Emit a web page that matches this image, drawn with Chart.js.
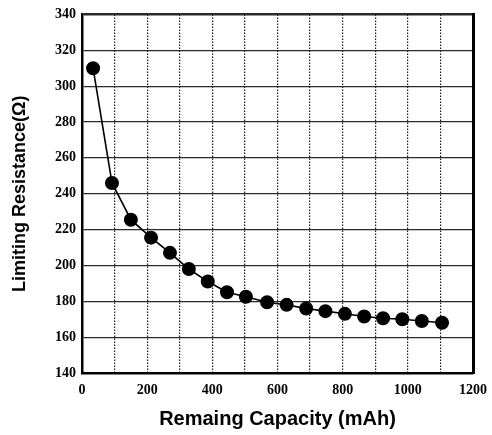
<!DOCTYPE html>
<html>
<head>
<meta charset="utf-8">
<script src="https://cdn.jsdelivr.net/npm/chart.js@4"></script>
<style>
  html, body { margin: 0; padding: 0; background: #fff; }
  #wrap { width: 492px; height: 435px; }
</style>
</head>
<body>
<div id="wrap"><canvas id="c" width="492" height="435"></canvas></div>
<script>
// Remaining capacity (mAh) and the matching limiting resistance (Ω)
const capacity = [34, 92, 150, 212, 270, 328, 386, 445, 503, 568, 628, 688, 747, 807, 866, 924, 983, 1043, 1105];
const resistance = [310, 246, 225.5, 215.5, 207, 198, 191, 185, 182.5, 179.5, 178, 176, 174.5, 173, 171.5, 170.5, 170, 169, 168];

const xMin = 0, xMax = 1200, xStep = 100, xLabelEvery = 200;
const yMin = 140, yMax = 340, yStep = 20;

const tickFont = { family: '"Liberation Serif", "DejaVu Serif", serif', size: 14, weight: 'bold' };
const xTitleFont = { family: '"Liberation Sans", Arial, sans-serif', size: 20, weight: 'bold' };
const yTitleFont = { family: '"Liberation Sans", Arial, sans-serif', size: 18, weight: 'bold' };

new Chart(document.getElementById('c'), {
  type: 'scatter',
  data: {
    datasets: [{
      data: capacity.map((x, i) => ({ x, y: resistance[i] })),
      showLine: true,
      borderColor: '#000',
      borderWidth: 1.6,
      backgroundColor: '#000',
      pointBackgroundColor: '#000',
      pointBorderColor: '#000',
      pointRadius: 6.2,
      pointHoverRadius: 6.2,
      tension: 0
    }]
  },
  options: {
    responsive: false,
    animation: false,
    events: [],
    layout: { padding: { left: 0, right: 19, top: 14, bottom: 0 } },
    plugins: { legend: { display: false }, tooltip: { enabled: false } },
    scales: {
      x: {
        type: 'linear',
        min: xMin, max: xMax,
        afterFit: s => { s.height = 62; s.paddingLeft = 0; s.paddingRight = 0; },
        ticks: {
          stepSize: xStep,
          autoSkip: false,
          maxRotation: 0,
          padding: 9,
          color: '#000',
          font: tickFont,
          callback: v => (v % xLabelEvery === 0 ? String(v) : '')
        },
        grid: {
          drawTicks: false,
          color: '#1a1a1a',
          lineWidth: 1.2
        },
        // dotted vertical grid lines; the axis line itself stays solid
        border: { display: true, color: '#000', width: 2.5, dash: [1.5, 1.5] },
        title: {
          display: true,
          text: 'Remaing Capacity (mAh)',
          color: '#000',
          font: xTitleFont,
          padding: { top: 0, bottom: 4 }
        }
      },
      y: {
        type: 'linear',
        min: yMin, max: yMax,
        afterFit: s => { s.width = 82; },
        ticks: {
          stepSize: yStep,
          padding: 6,
          color: '#000',
          font: tickFont
        },
        grid: {
          drawTicks: false,
          color: '#2a2a2a',
          lineWidth: ctx => (ctx.tick && ctx.tick.value === yMax ? 2.5 : 1.2)
        },
        border: { display: true, color: '#000', width: 2.5 },
        title: {
          display: true,
          text: 'Limiting Resistance(Ω)',
          color: '#000',
          font: yTitleFont,
          padding: { top: 9, bottom: 0 }
        }
      },
      // right-hand frame edge
      yRight: {
        type: 'linear',
        position: 'right',
        min: yMin, max: yMax,
        afterFit: s => { s.width = 0; },
        ticks: { display: false },
        grid: { display: false, drawTicks: false },
        border: { display: true, color: '#000', width: 3 }
      }
    }
  }
});
</script>
</body>
</html>
